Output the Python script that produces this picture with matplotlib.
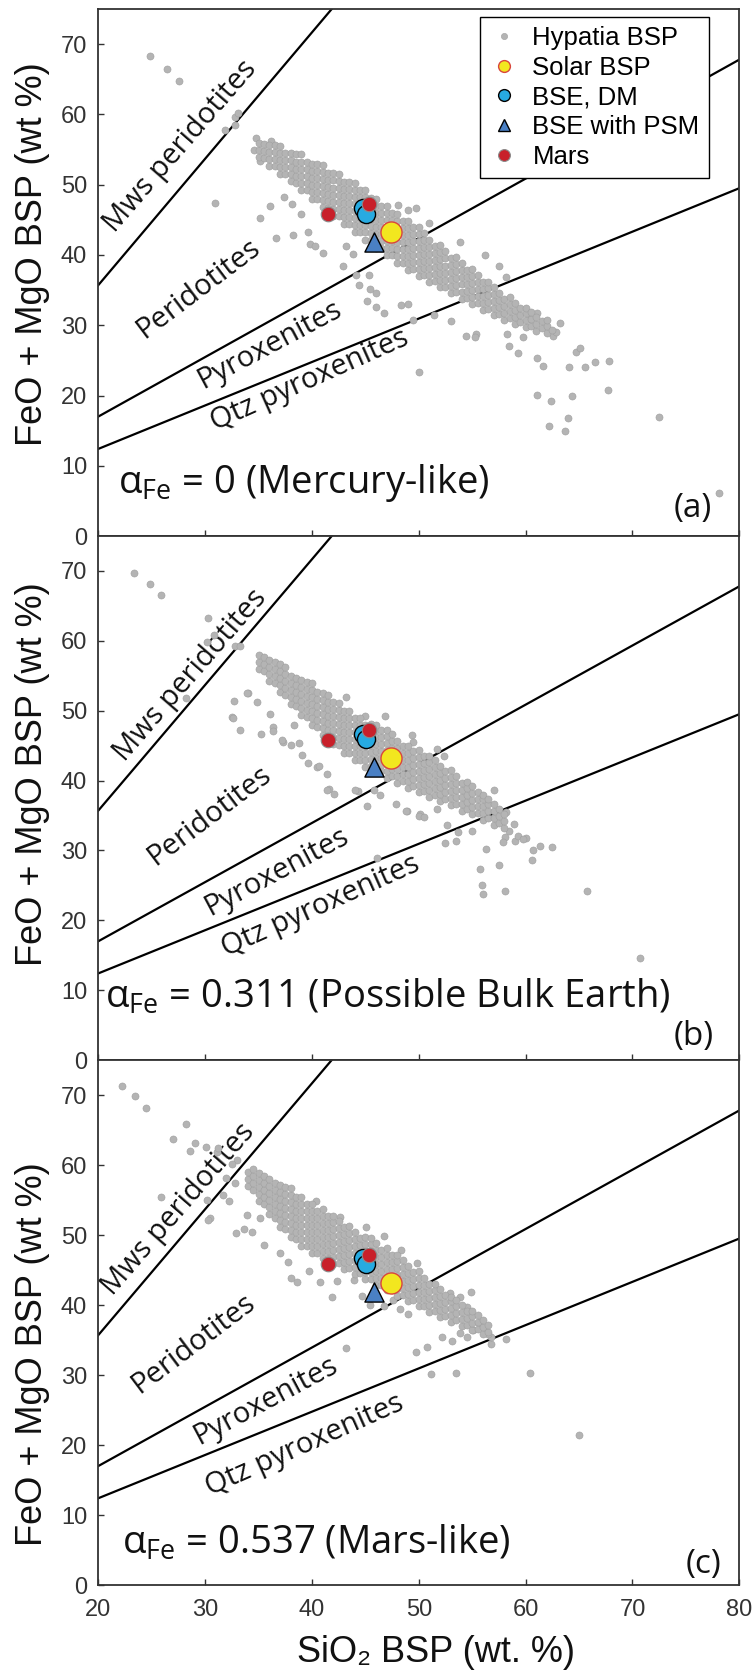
import matplotlib
matplotlib.use('Agg')
import matplotlib.pyplot as plt
from matplotlib.lines import Line2D

plt.rcParams['font.family'] = ['Liberation Sans', 'DejaVu Sans']
plt.rcParams['mathtext.fontset'] = 'custom'
plt.rcParams['mathtext.rm'] = 'Open Sans'
plt.rcParams['mathtext.it'] = 'Open Sans'

# axis ticks
x_ticks = [20, 30, 40, 50, 60, 70, 80]
y_ticks = [0, 10, 20, 30, 40, 50, 60, 70]

# field boundaries (SiO2, FeO+MgO)
mws_x, mws_y = [20, 41.85], [35.7, 75]
pyx_x, pyx_y = [20, 80], [17.0, 67.8]
qtz_x, qtz_y = [20, 80], [12.4, 49.5]

# reference compositions
solar_x, solar_y = [47.4], [43.2]
bse_dm_x, bse_dm_y = [44.8, 45.1], [46.7, 45.9]
bse_psm_x, bse_psm_y = [45.8], [41.9]
mars_x, mars_y = [45.3, 41.5], [47.2, 45.8]

panel_tags = ['(a)', '(b)', '(c)']
alpha_text = ['0 (Mercury-like)', '0.311 (Possible Bulk Earth)', '0.537 (Mars-like)']

# Hypatia BSP stars, panel (a): scattered stars
hyp_a_out = [(24.8, 68.3), (26.4, 66.4), (27.6, 64.7), (31.9, 57.8), (32.8, 58.5), (32.8, 59.6),
             (33.1, 60.2), (30.9, 47.4), (34.8, 56.6), (36.2, 56.2), (34.6, 55.0), (35.1, 53.4),
             (36.6, 42.4), (38.2, 42.8), (35.1, 45.3), (36.1, 47.0), (37.4, 48.2), (38.1, 47.2),
             (39.0, 45.9), (39.6, 43.2), (39.8, 41.6), (40.3, 41.3), (41.0, 40.3), (42.9, 38.5),
             (44.1, 37.1), (44.4, 35.7), (45.3, 37.2), (45.2, 33.4), (45.4, 35.1), (46.0, 34.6),
             (46.7, 31.8), (46.0, 32.6), (48.3, 32.9), (49.0, 33.0), (49.5, 30.7), (50.0, 23.4),
             (51.4, 31.5), (53.0, 30.6), (54.4, 28.5), (55.4, 28.8), (55.3, 28.3), (58.4, 27.0),
             (59.3, 26.1), (61.1, 25.3), (61.6, 24.2), (61.1, 20.1), (62.4, 19.2), (64.3, 20.0),
             (62.2, 15.7), (63.7, 14.9), (64.0, 16.8), (64.1, 24.0), (64.7, 26.2), (65.1, 26.7),
             (65.6, 24.0), (66.5, 24.8), (67.8, 24.9), (67.7, 20.8), (72.5, 17.0), (78.1, 6.1),
             (62.6, 28.4), (63.2, 30.3), (62.8, 29.1), (60.4, 30.9), (61.1, 31.8), (59.8, 28.3),
             (58.3, 28.8), (48.1, 47.1), (49.0, 46.4), (49.7, 46.7), (51.0, 44.6), (53.9, 41.8),
             (56.2, 40.0), (57.5, 38.5), (58.2, 36.9), (43.8, 40.2), (43.2, 41.3)]

# panel (a): dense band, SiO2 column -> FeO+MgO values
hyp_a_core = [
    (35.0, [54.0, 55.0, 56.0]), (35.5, [53.8, 54.8, 55.8]), (36.0, [52.7, 53.7, 54.7, 55.7]),
    (36.5, [52.6, 53.6, 54.6, 55.6]), (37.0, [51.5, 52.5, 53.5, 54.5, 55.5]),
    (37.5, [51.5, 52.5, 53.5, 54.5]), (38.0, [50.5, 51.5, 52.5, 53.5, 54.5]),
    (38.5, [50.3, 51.3, 52.3, 53.3, 54.3]), (39.0, [49.3, 50.3, 51.3, 52.3, 53.3, 54.3]),
    (39.5, [49.2, 50.2, 51.2, 52.2, 53.2]), (40.0, [48.0, 49.0, 50.0, 51.0, 52.0, 53.0]),
    (40.5, [47.9, 48.9, 49.9, 50.9, 51.9, 52.9]), (41.0, [46.8, 47.8, 48.8, 49.8, 50.8, 51.8, 52.8]),
    (41.5, [46.7, 47.7, 48.7, 49.7, 50.7, 51.7]), (42.0, [45.6, 46.6, 47.6, 48.6, 49.6, 50.6, 51.6]),
    (42.5, [45.5, 46.5, 47.5, 48.5, 49.5, 50.5, 51.5]),
    (43.0, [44.4, 45.4, 46.4, 47.4, 48.4, 49.4, 50.4]),
    (43.5, [44.4, 45.4, 46.4, 47.4, 48.4, 49.4, 50.4]),
    (44.0, [43.2, 44.2, 45.2, 46.2, 47.2, 48.2, 49.2, 50.2]),
    (44.5, [43.2, 44.2, 45.2, 46.2, 47.2, 48.2, 49.2]),
    (45.0, [42.2, 43.2, 44.2, 45.2, 46.2, 47.2, 48.2, 49.2]),
    (45.5, [42.1, 43.1, 44.1, 45.1, 46.1, 47.1, 48.1]),
    (46.0, [41.0, 42.0, 43.0, 44.0, 45.0, 46.0, 47.0, 48.0]),
    (46.5, [41.0, 42.0, 43.0, 44.0, 45.0, 46.0, 47.0]),
    (47.0, [40.0, 41.0, 42.0, 43.0, 44.0, 45.0, 46.0, 47.0]),
    (47.5, [40.0, 41.0, 42.0, 43.0, 44.0, 45.0, 46.0]),
    (48.0, [38.9, 39.9, 40.9, 41.9, 42.9, 43.9, 44.9, 45.9]),
    (48.5, [38.9, 39.9, 40.9, 41.9, 42.9, 43.9, 44.9]),
    (49.0, [37.9, 38.9, 39.9, 40.9, 41.9, 42.9, 43.9, 44.9]),
    (49.5, [38.0, 39.0, 40.0, 41.0, 42.0, 43.0, 44.0]),
    (50.0, [37.0, 38.0, 39.0, 40.0, 41.0, 42.0, 43.0, 44.0]),
    (50.5, [37.1, 38.1, 39.1, 40.1, 41.1, 42.1, 43.1]),
    (51.0, [36.2, 37.2, 38.2, 39.2, 40.2, 41.2, 42.2]),
    (51.5, [36.3, 37.3, 38.3, 39.3, 40.3, 41.3]),
    (52.0, [35.4, 36.4, 37.4, 38.4, 39.4, 40.4, 41.4]),
    (52.5, [35.5, 36.5, 37.5, 38.5, 39.5, 40.5]),
    (53.0, [34.6, 35.6, 36.6, 37.6, 38.6, 39.6]), (53.5, [34.7, 35.7, 36.7, 37.7, 38.7, 39.7]),
    (54.0, [33.8, 34.8, 35.8, 36.8, 37.8, 38.8]), (54.5, [33.9, 34.9, 35.9, 36.9, 37.9]),
    (55.0, [33.0, 34.0, 35.0, 36.0, 37.0, 38.0]), (55.5, [33.1, 34.1, 35.1, 36.1, 37.1]),
    (56.0, [32.2, 33.2, 34.2, 35.2, 36.2]), (56.5, [32.3, 33.3, 34.3, 35.3, 36.2]),
    (57.0, [31.5, 32.5, 33.5, 34.5, 35.5]), (57.5, [31.6, 32.6, 33.6, 34.6]),
    (58.0, [30.8, 31.8, 32.8, 33.8]), (58.5, [31.0, 32.0, 33.0, 34.0]),
    (59.0, [30.2, 31.2, 32.2, 33.2]), (59.5, [30.4, 31.4, 32.4]),
    (60.0, [29.7, 30.7, 31.7, 32.5]), (60.5, [29.9, 30.9, 31.9]), (61.0, [29.2, 30.2, 31.2]),
    (61.5, [29.6, 30.6]), (62.0, [28.9, 29.9, 30.7]), (62.5, [29.3])]

# panel (b)
hyp_b_out = [(23.3, 69.7), (24.8, 68.1), (25.9, 66.5), (30.3, 63.3), (30.8, 60.9), (30.2, 59.8),
             (32.8, 59.2), (33.3, 59.3), (28.2, 51.8), (32.5, 49.1), (32.7, 51.4), (33.3, 47.3),
             (34.0, 52.6), (35.2, 46.7), (36.4, 47.6), (37.3, 45.5), (38.0, 45.1), (38.8, 45.4),
             (39.1, 43.7), (40.5, 42.0), (41.4, 40.9), (41.6, 38.8), (42.1, 38.1), (44.3, 38.5),
             (45.2, 36.4), (46.1, 28.9), (47.9, 36.6), (48.9, 35.7), (50.1, 35.2), (52.5, 31.0),
             (53.5, 31.4), (55.0, 32.8), (55.7, 27.3), (55.9, 25.0), (56.0, 23.7), (57.5, 27.9),
             (58.1, 24.2), (65.7, 24.2), (70.7, 14.6), (62.5, 30.5), (60.6, 28.7), (58.4, 32.8),
             (33.9, 52.5), (34.9, 51.2), (32.6, 48.9), (36.1, 49.6), (36.4, 47.1), (37.2, 45.8),
             (38.3, 47.9), (39.6, 42.5), (40.7, 42.1), (41.4, 38.7), (44.0, 38.6), (45.8, 38.6),
             (46.4, 37.9), (48.8, 35.6), (50.0, 35.0), (50.5, 34.8), (51.7, 36.0), (52.6, 33.7),
             (53.7, 32.7), (56.3, 30.2), (58.1, 31.9), (59.0, 31.4), (60.0, 31.8), (60.7, 30.0),
             (61.3, 30.7), (57.0, 38.7), (58.2, 35.5), (58.9, 33.8), (59.3, 32.1), (59.8, 31.7),
             (57.9, 31.2), (43.2, 51.9), (45.0, 49.3), (46.8, 49.2), (49.4, 46.5), (51.7, 44.5),
             (52.4, 43.5), (49.5, 45.5)]

hyp_b_core = [
    (35.0, [56.0, 57.0, 58.0]), (35.5, [55.7, 56.7, 57.7]), (36.0, [54.3, 55.3, 56.3, 57.3]),
    (36.5, [54.0, 55.0, 56.0, 57.0]), (37.0, [52.7, 53.7, 54.7, 55.7, 56.7]),
    (37.5, [52.3, 53.3, 54.3, 55.3, 56.2]), (38.0, [51.0, 52.0, 53.0, 54.0, 55.0]),
    (38.5, [50.7, 51.7, 52.7, 53.7, 54.7]), (39.0, [49.4, 50.4, 51.4, 52.4, 53.4, 54.4]),
    (39.5, [49.1, 50.1, 51.1, 52.1, 53.1, 54.1]),
    (40.0, [47.9, 48.9, 49.9, 50.9, 51.9, 52.9, 53.9]),
    (40.5, [47.7, 48.7, 49.7, 50.7, 51.7, 52.7]),
    (41.0, [46.5, 47.5, 48.5, 49.5, 50.5, 51.5, 52.5]),
    (41.5, [46.3, 47.3, 48.3, 49.3, 50.3, 51.3, 52.3]),
    (42.0, [45.2, 46.2, 47.2, 48.2, 49.2, 50.2, 51.2]),
    (42.5, [45.1, 46.1, 47.1, 48.1, 49.1, 50.1, 51.1]),
    (43.0, [44.0, 45.0, 46.0, 47.0, 48.0, 49.0, 50.0]),
    (43.5, [43.9, 44.9, 45.9, 46.9, 47.9, 48.9, 49.9]),
    (44.0, [42.9, 43.9, 44.9, 45.9, 46.9, 47.9, 48.9]),
    (44.5, [42.9, 43.9, 44.9, 45.9, 46.9, 47.9, 48.9]),
    (45.0, [42.0, 43.0, 44.0, 45.0, 46.0, 47.0, 48.0]),
    (45.5, [42.1, 43.1, 44.1, 45.1, 46.1, 47.1, 48.1]),
    (46.0, [41.2, 42.2, 43.2, 44.2, 45.2, 46.2, 47.2, 48.0]),
    (46.5, [41.3, 42.3, 43.3, 44.3, 45.3, 46.3, 47.3]),
    (47.0, [40.4, 41.4, 42.4, 43.4, 44.4, 45.4, 46.4, 47.2]),
    (47.5, [40.6, 41.6, 42.6, 43.6, 44.6, 45.6, 46.6]),
    (48.0, [39.7, 40.7, 41.7, 42.7, 43.7, 44.7, 45.7]),
    (48.5, [39.9, 40.9, 41.9, 42.9, 43.9, 44.9]),
    (49.0, [39.0, 40.0, 41.0, 42.0, 43.0, 44.0, 45.0]),
    (49.5, [39.2, 40.2, 41.2, 42.2, 43.2, 44.2]),
    (50.0, [38.4, 39.4, 40.4, 41.4, 42.4, 43.4, 44.4]),
    (50.5, [38.5, 39.5, 40.5, 41.5, 42.5, 43.5]),
    (51.0, [37.7, 38.7, 39.7, 40.7, 41.7, 42.7, 43.5]),
    (51.5, [37.9, 38.9, 39.9, 40.9, 41.9, 42.9]),
    (52.0, [37.1, 38.1, 39.1, 40.1, 41.1, 42.1]), (52.5, [37.3, 38.3, 39.3, 40.3, 41.3]),
    (53.0, [36.5, 37.5, 38.5, 39.5, 40.5, 41.5]), (53.5, [36.6, 37.6, 38.6, 39.6, 40.6]),
    (54.0, [35.7, 36.7, 37.7, 38.7, 39.7]), (54.5, [35.9, 36.9, 37.9, 38.9, 39.8]),
    (55.0, [35.2, 36.2, 37.2, 38.2, 39.2]), (55.5, [35.3, 36.3, 37.3, 38.3]),
    (56.0, [34.4, 35.4, 36.4, 37.4, 38.0]), (56.5, [34.6, 35.6, 36.6, 37.3]),
    (57.0, [33.7, 34.7, 35.7, 36.7]), (57.5, [33.9, 34.9, 36.0]), (58.0, [33.2, 34.2, 35.2])]

# panel (c)
hyp_c_out = [(22.2, 71.3), (23.4, 69.8), (24.5, 68.2), (28.2, 65.9), (27.0, 63.7), (29.1, 63.1),
             (28.6, 62.0), (30.1, 62.6), (31.1, 61.9), (25.9, 55.5), (30.5, 52.4), (30.2, 55.0),
             (30.3, 52.1), (32.9, 50.3), (33.9, 52.9), (35.1, 52.4), (34.4, 50.5), (35.5, 48.6),
             (37.0, 47.4), (37.8, 46.2), (38.0, 43.8), (38.6, 43.3), (39.7, 44.9), (40.8, 43.3),
             (41.9, 41.2), (42.3, 43.5), (43.2, 33.8), (43.9, 43.6), (44.7, 41.3), (45.4, 40.0),
             (46.7, 39.9), (47.6, 40.7), (48.2, 39.4), (49.0, 38.7), (49.7, 33.3), (50.8, 34.0),
             (51.1, 30.1), (53.5, 30.3), (54.9, 41.8), (52.2, 35.5), (53.1, 34.8), (53.9, 36.0),
             (54.5, 35.5), (55.1, 36.4), (55.6, 37.5), (56.4, 36.2), (56.8, 34.5), (58.2, 35.1),
             (56.8, 35.5), (56.5, 35.8), (60.4, 30.3), (65.0, 21.5), (31.7, 55.7), (32.2, 54.8),
             (32.8, 57.4), (32.0, 58.1), (33.0, 60.7), (32.5, 60.2), (31.2, 62.4), (33.6, 50.9),
             (40.4, 54.8), (42.6, 52.6), (45.1, 51.2), (46.7, 49.8), (48.3, 47.8), (49.8, 46.0),
             (52.9, 41.7), (54.5, 39.7), (53.9, 41.2)]

hyp_c_core = [
    (34.0, [57.0, 58.0, 59.0]), (34.5, [56.5, 57.5, 58.5, 59.4]),
    (35.0, [54.9, 55.9, 56.9, 57.9, 58.9]), (35.5, [54.5, 55.5, 56.5, 57.5, 58.5]),
    (36.0, [53.0, 54.0, 55.0, 56.0, 57.0, 58.0]), (36.5, [52.5, 53.5, 54.5, 55.5, 56.5, 57.5]),
    (37.0, [51.1, 52.1, 53.1, 54.1, 55.1, 56.1, 57.1]),
    (37.5, [50.9, 51.9, 52.9, 53.9, 54.9, 55.9, 56.9]),
    (38.0, [49.7, 50.7, 51.7, 52.7, 53.7, 54.7, 55.7, 56.7]),
    (38.5, [49.5, 50.5, 51.5, 52.5, 53.5, 54.5, 55.5]),
    (39.0, [48.4, 49.4, 50.4, 51.4, 52.4, 53.4, 54.4, 55.4]),
    (39.5, [48.4, 49.4, 50.4, 51.4, 52.4, 53.4, 54.4]),
    (40.0, [47.4, 48.4, 49.4, 50.4, 51.4, 52.4, 53.4, 54.4]),
    (40.5, [47.5, 48.5, 49.5, 50.5, 51.5, 52.5, 53.5]),
    (41.0, [46.7, 47.7, 48.7, 49.7, 50.7, 51.7, 52.7, 53.7]),
    (41.5, [46.7, 47.7, 48.7, 49.7, 50.7, 51.7, 52.7]),
    (42.0, [45.9, 46.9, 47.9, 48.9, 49.9, 50.9, 51.9, 52.7]),
    (42.5, [46.0, 47.0, 48.0, 49.0, 50.0, 51.0, 52.0]),
    (43.0, [45.2, 46.2, 47.2, 48.2, 49.2, 50.2, 51.2]),
    (43.5, [45.3, 46.3, 47.3, 48.3, 49.3, 50.3, 51.3]),
    (44.0, [44.4, 45.4, 46.4, 47.4, 48.4, 49.4, 50.4]),
    (44.5, [44.6, 45.6, 46.6, 47.6, 48.6, 49.6]),
    (45.0, [43.7, 44.7, 45.7, 46.7, 47.7, 48.7, 49.7]),
    (45.5, [43.7, 44.7, 45.7, 46.7, 47.7, 48.7, 49.6]),
    (46.0, [42.9, 43.9, 44.9, 45.9, 46.9, 47.9, 48.9]),
    (46.5, [42.9, 43.9, 44.9, 45.9, 46.9, 47.9]),
    (47.0, [42.1, 43.1, 44.1, 45.1, 46.1, 47.1, 48.1]),
    (47.5, [42.1, 43.1, 44.1, 45.1, 46.1, 47.1]),
    (48.0, [41.3, 42.3, 43.3, 44.3, 45.3, 46.3, 47.1]),
    (48.5, [41.4, 42.4, 43.4, 44.4, 45.4, 46.4]),
    (49.0, [40.6, 41.6, 42.6, 43.6, 44.6, 45.6]), (49.5, [40.7, 41.7, 42.7, 43.7, 44.7]),
    (50.0, [39.8, 40.8, 41.8, 42.8, 43.8, 44.8]), (50.5, [39.9, 40.9, 41.9, 42.9, 43.9]),
    (51.0, [39.0, 40.0, 41.0, 42.0, 43.0]), (51.5, [39.1, 40.1, 41.1, 42.1, 43.0]),
    (52.0, [38.3, 39.3, 40.3, 41.3, 42.3]), (52.5, [38.4, 39.4, 40.4, 41.4]),
    (53.0, [37.6, 38.6, 39.6, 40.6, 41.2]), (53.5, [37.8, 38.8, 39.8, 40.7]),
    (54.0, [37.0, 38.0, 39.0, 40.0]), (54.5, [37.2, 38.2, 39.2]),
    (55.0, [36.4, 37.4, 38.4, 39.2]), (55.5, [36.6, 37.6, 38.6]),
    (56.0, [35.8, 36.8, 37.8]), (56.5, [36.1, 37.1])]

# field label positions per panel (x, y)
mws_pos = [(27.7, 55.5), (28.6, 55.0), (27.5, 53.6)]
perid_pos = [(29.4, 35.2), (30.4, 34.9), (28.9, 34.5)]
pyrox_pos = [(36.0, 27.2), (36.7, 26.9), (35.7, 26.3)]
qtzpx_pos = [(39.8, 22.1), (40.8, 22.0), (39.3, 19.9)]


def flatten(out, core):
    xs = [p[0] for p in out]
    ys = [p[1] for p in out]
    for x, col in core:
        for y in col:
            xs.append(x)
            ys.append(y)
    return xs, ys


hyp = [flatten(hyp_a_out, hyp_a_core), flatten(hyp_b_out, hyp_b_core), flatten(hyp_c_out, hyp_c_core)]

fig = plt.figure(figsize=(7.53, 16.72), dpi=100)
left, width = 0.1305, 0.8513
rects = [(left, 0.6794, width, 0.3152), (left, 0.3660, width, 0.3134), (left, 0.0520, width, 0.3140)]
alpha_xy = [(0.031, 0.082), (0.011, 0.099), (0.037, 0.059)]
tag_xy = [(0.957, 0.037), (0.960, 0.029), (0.972, 0.023)]
ylab_fig_y = [0.8481, 0.5371, 0.1900]
lab_font = ['Open Sans', 'DejaVu Sans']

for i in range(3):
    ax = fig.add_axes(rects[i])
    ax.set_xlim(20, 80)
    ax.set_ylim(0, 75)
    ax.set_xticks(x_ticks)
    ax.set_yticks(y_ticks)
    ax.tick_params(direction='in', length=4.5, width=1, colors='#333333', labelsize=17)
    ax.tick_params(axis='y', pad=8)
    ax.tick_params(axis='x', pad=10)
    for s in ax.spines.values():
        s.set_linewidth(1.3)
        s.set_color('#333333')
    if i < 2:
        ax.tick_params(axis='x', labelbottom=False)

    for lx, ly in [(mws_x, mws_y), (pyx_x, pyx_y), (qtz_x, qtz_y)]:
        ax.plot(lx, ly, color='black', lw=1.6, zorder=1)

    for txt, pos, rot in [('Mws peridotites', mws_pos[i], 49), ('Peridotites', perid_pos[i], 37),
                          ('Pyroxenites', pyrox_pos[i], 28), ('Qtz pyroxenites', qtzpx_pos[i], 24)]:
        ax.text(pos[0], pos[1], txt, rotation=rot, rotation_mode='anchor', ha='center', va='center',
                fontsize=21, family=lab_font, color='#111111', zorder=1)

    hx, hy = hyp[i]
    ax.scatter(hx, hy, s=26, color='#b4b4b4', edgecolors='#a0a0a0', linewidths=0.4, zorder=2)
    ax.scatter(bse_dm_x, bse_dm_y, s=170, color='#27aae1', edgecolors='black', linewidths=1.0, zorder=4)
    ax.scatter(mars_x, mars_y, s=110, color='#c8202a', edgecolors='#8a8a8a', linewidths=0.8, zorder=5)
    ax.scatter(bse_psm_x, bse_psm_y, s=190, marker='^', color='#4a80c4', edgecolors='black',
               linewidths=1.0, zorder=5)
    ax.scatter(solar_x, solar_y, s=230, color='#f2e71f', edgecolors='#d9463c', linewidths=1.0, zorder=5)

    ax.text(alpha_xy[i][0], alpha_xy[i][1], r'$\mathrm{\alpha_{Fe}}$ = ' + alpha_text[i],
            transform=ax.transAxes, ha='left', va='baseline', fontsize=27.5, family=lab_font,
            color='#111111', zorder=6)
    ax.text(tag_xy[i][0], tag_xy[i][1], panel_tags[i], transform=ax.transAxes, ha='right',
            va='baseline', fontsize=24, family=lab_font, color='#111111', zorder=6)

    fig.text(0.0432, ylab_fig_y[i], 'FeO + MgO BSP (wt %)', rotation=90, ha='center', va='center',
             fontsize=26, color='#111111')

    if i == 0:
        handles = [
            Line2D([], [], ls='none', marker='o', ms=4.5, mfc='#b4b4b4', mec='#a0a0a0', mew=0.4),
            Line2D([], [], ls='none', marker='o', ms=8.5, mfc='#f2e71f', mec='#d9463c', mew=1.0),
            Line2D([], [], ls='none', marker='o', ms=8.5, mfc='#27aae1', mec='black', mew=1.0),
            Line2D([], [], ls='none', marker='^', ms=9, mfc='#4a80c4', mec='black', mew=1.0),
            Line2D([], [], ls='none', marker='o', ms=8.5, mfc='#c8202a', mec='#8a8a8a', mew=0.8)]
        leg = ax.legend(handles, ['Hypatia BSP', 'Solar BSP', 'BSE, DM', 'BSE with PSM', 'Mars'],
                        loc='upper right', bbox_to_anchor=(0.952, 0.985), fontsize=18.5,
                        frameon=True, fancybox=False, framealpha=1, edgecolor='black',
                        borderpad=0.35, labelspacing=0.22, handletextpad=0.5, handlelength=1.2,
                        borderaxespad=0)
        leg.get_frame().set_linewidth(1.0)
        leg.set_zorder(10)

fig.text(436 / 753, 1 - 1652 / 1672, 'SiO\u2082 BSP (wt. %)', ha='center', va='center',
         fontsize=26, color='#111111')

fig.savefig('out.png', dpi=100)
